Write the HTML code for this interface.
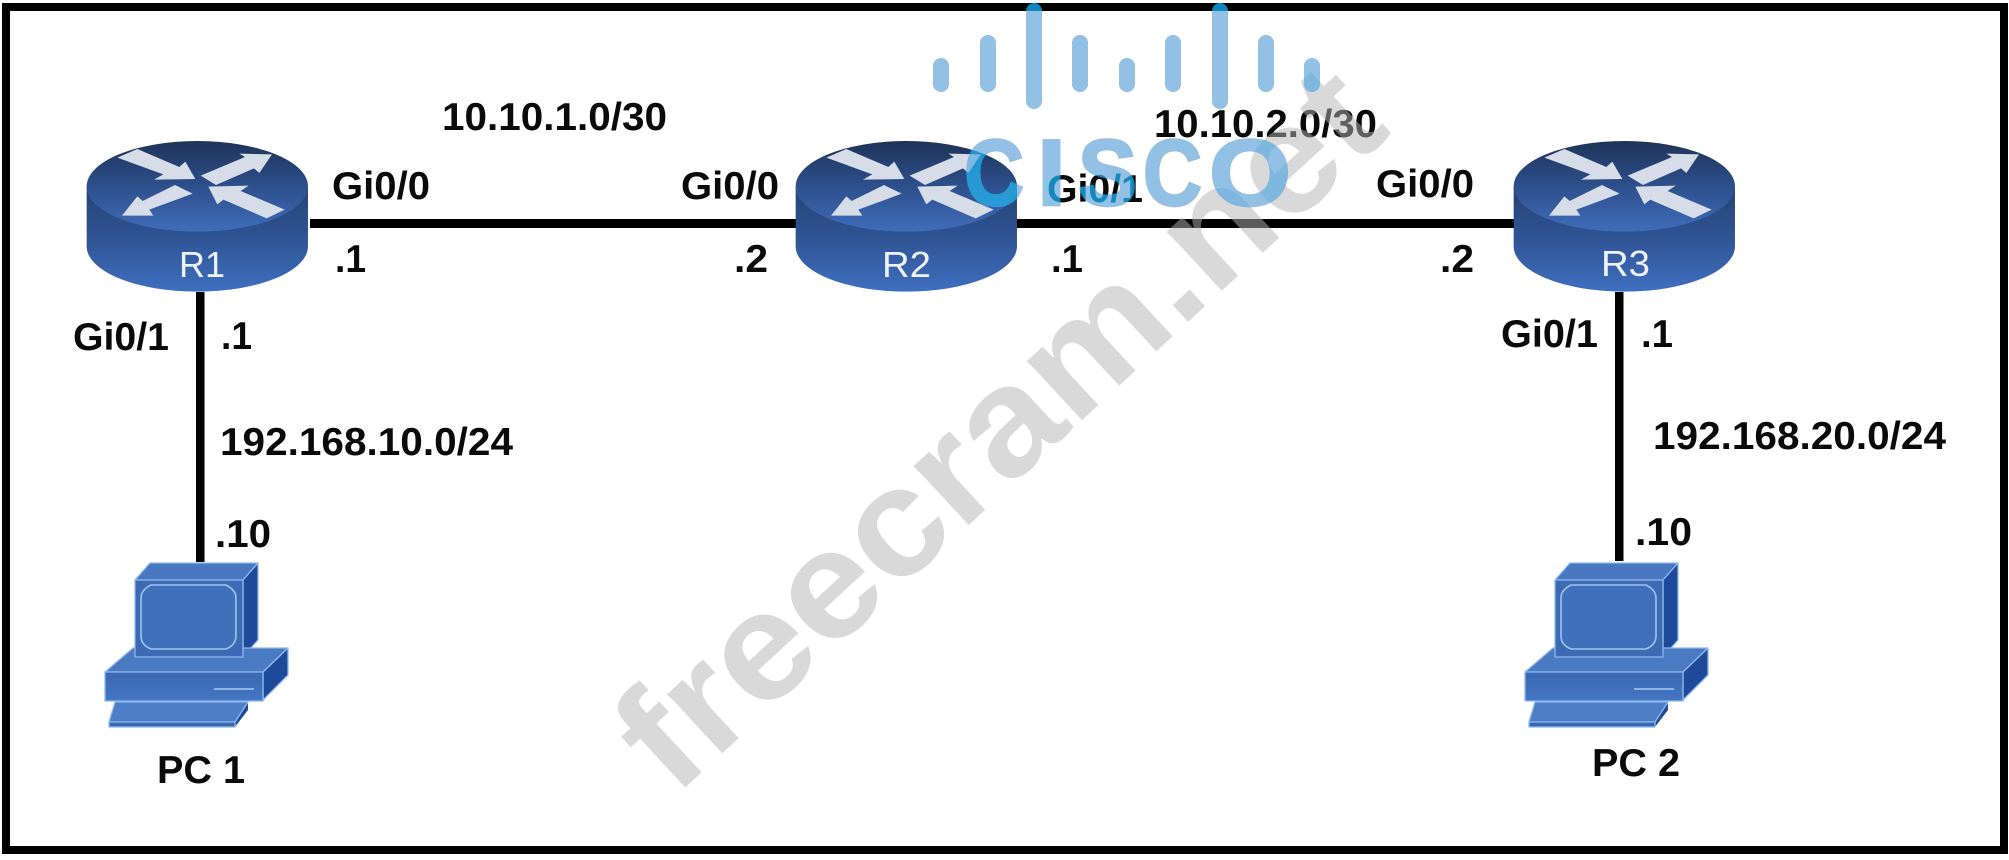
<!DOCTYPE html>
<html><head><meta charset="utf-8"><title>Network topology</title>
<style>html,body{margin:0;padding:0;background:#fff}svg{display:block}
text{font-family:"Liberation Sans",Arial,sans-serif}
.b{font-weight:700;font-size:38.5px;fill:#0a0a0a}
.w{font-size:36px;fill:#eef2f9}
.wm{font-weight:700;font-size:153px;fill:rgba(180,180,180,.5)}
.lg{font-weight:700;font-size:94px;stroke-width:2.5px}
.mul{mix-blend-mode:multiply;fill:#8c7c99;stroke:none}
.mul .lg{stroke:#8c7c99}
.scr{mix-blend-mode:screen;fill:#0f86be}
.scr .lg{stroke:#0f86be}
</style></head><body>
<svg width="2009" height="860" viewBox="0 0 2009 860" xmlns="http://www.w3.org/2000/svg">
<defs>
<linearGradient id="t" gradientUnits="userSpaceOnUse" x1="0" y1="18" x2="0" y2="290"><stop offset="0" stop-color="#1e3358"/><stop offset=".5" stop-color="#2d4f8c"/><stop offset="1" stop-color="#3f6dba"/></linearGradient>
<linearGradient id="s" gradientUnits="userSpaceOnUse" x1="0" y1="180" x2="0" y2="470"><stop offset="0" stop-color="#274578"/><stop offset=".45" stop-color="#2f5494"/><stop offset="1" stop-color="#3f6fc0"/></linearGradient>
<linearGradient id="pf" x1="0" y1="0" x2="0" y2="1"><stop offset="0" stop-color="#3a68b2"/><stop offset="1" stop-color="#4576c2"/></linearGradient>
<g id="router">
<path d="M20,154 L20,334 A332,136 0 0 0 684,334 L684,154 Z" fill="url(#s)"/>
<ellipse cx="352" cy="154" rx="332" ry="136" fill="url(#t)"/>
<g fill="#d6dde9">
<polygon points="172,42 298,96 316,80 346,132 222,134 250,118 112,68"/>
<polygon points="362,122 495,66 478,56 576,58 538,114 522,100 408,150"/>
<polygon points="285,150 338,176 208,224 220,242 126,242 172,184 188,198"/>
<polygon points="385,155 506,152 482,168 614,224 560,250 430,194 412,208"/>
</g>
</g>
<g id="pc" stroke="#8db9ee" stroke-width="1.3" stroke-linejoin="round">
<polygon points="135,580 150,563 258,563 243,580" fill="#4a78c0"/>
<polygon points="243,580 258,563 258,640 243,657" fill="#1f4a9a"/>
<polygon points="105,672 133,648 288,648 263,672" fill="#4a7ac2"/>
<polygon points="263,672 288,648 288,675 263,700" fill="#1f4a9a"/>
<rect x="135" y="580" width="108" height="77" fill="#3d6ab2"/>
<path d="M151,585 H226 Q236,590 236,598 V636 Q236,645 226,649 H151 Q141,645 141,636 V598 Q141,590 151,585 Z" fill="#4070ba" stroke="#9cc4f0" stroke-width="1.6"/>
<rect x="105" y="672" width="158" height="29" fill="url(#pf)"/>
<line x1="214" y1="689" x2="254" y2="689" stroke="#a9cbf2" stroke-width="1.5"/>
<polygon points="248,702 248,710 235,727 235,722" fill="#1f4a9a" stroke="none"/>
<polygon points="115,702 248,702 235,722 109,722" fill="#4e7ec6"/>
<rect x="109" y="722" width="126" height="5" fill="#3566b0"/>
</g>
</defs>
<rect width="2009" height="860" fill="#fff"/>
<rect x="6" y="7" width="1998" height="843" fill="none" stroke="#000" stroke-width="8"/>
<rect x="310" y="219" width="490" height="9" fill="#000"/>
<rect x="1012" y="219" width="505" height="9" fill="#000"/>
<rect x="196" y="292" width="8.5" height="270" fill="#000"/>
<rect x="1615" y="292" width="8.5" height="269" fill="#000"/>
<use href="#router" transform="translate(80,135) scale(.3333)"/>
<use href="#router" transform="translate(789,135) scale(.3333)"/>
<use href="#router" transform="translate(1507,135) scale(.3333)"/>
<use href="#pc"/>
<use href="#pc" transform="translate(1420,0)"/>
<text class="w" x="179" y="277" textLength="46" lengthAdjust="spacingAndGlyphs">R1</text>
<text class="w" x="882" y="277" textLength="49" lengthAdjust="spacingAndGlyphs">R2</text>
<text class="w" x="1601" y="276" textLength="49" lengthAdjust="spacingAndGlyphs">R3</text>
<text class="b" x="442" y="130" textLength="225" lengthAdjust="spacingAndGlyphs">10.10.1.0/30</text>
<text class="b" x="332" y="199" textLength="98" lengthAdjust="spacingAndGlyphs">Gi0/0</text>
<text class="b" x="335" y="272" textLength="31" lengthAdjust="spacingAndGlyphs">.1</text>
<text class="b" x="73" y="350" textLength="96" lengthAdjust="spacingAndGlyphs">Gi0/1</text>
<text class="b" x="221" y="349" textLength="31" lengthAdjust="spacingAndGlyphs">.1</text>
<text class="b" x="220" y="455" textLength="293" lengthAdjust="spacingAndGlyphs">192.168.10.0/24</text>
<text class="b" x="215" y="547" textLength="56" lengthAdjust="spacingAndGlyphs">.10</text>
<text class="b" x="157" y="783" textLength="88" lengthAdjust="spacingAndGlyphs">PC 1</text>
<text class="b" x="681" y="199" textLength="98" lengthAdjust="spacingAndGlyphs">Gi0/0</text>
<text class="b" x="734" y="272" textLength="34" lengthAdjust="spacingAndGlyphs">.2</text>
<text class="b" x="1051" y="272" textLength="32" lengthAdjust="spacingAndGlyphs">.1</text>
<text class="b" x="1047" y="202" textLength="96" lengthAdjust="spacingAndGlyphs">Gi0/1</text>
<text class="b" x="1154" y="137" textLength="223" lengthAdjust="spacingAndGlyphs">10.10.2.0/30</text>
<text class="b" x="1376" y="197" textLength="98" lengthAdjust="spacingAndGlyphs">Gi0/0</text>
<text class="b" x="1440" y="272" textLength="34" lengthAdjust="spacingAndGlyphs">.2</text>
<text class="b" x="1501" y="347" textLength="97" lengthAdjust="spacingAndGlyphs">Gi0/1</text>
<text class="b" x="1641" y="347" textLength="32" lengthAdjust="spacingAndGlyphs">.1</text>
<text class="b" x="1653" y="449" textLength="293" lengthAdjust="spacingAndGlyphs">192.168.20.0/24</text>
<text class="b" x="1635" y="545" textLength="57" lengthAdjust="spacingAndGlyphs">.10</text>
<text class="b" x="1592" y="776" textLength="88" lengthAdjust="spacingAndGlyphs">PC 2</text>
<text class="wm" transform="translate(674,798) rotate(-42.8)" textLength="980" lengthAdjust="spacingAndGlyphs">freecram.net</text>
<g class="mul">
<rect x="933" y="58" width="16" height="34" rx="8"/><rect x="980" y="35" width="16" height="57" rx="8"/><rect x="1026" y="3" width="16" height="106" rx="8"/><rect x="1072" y="35" width="16" height="57" rx="8"/><rect x="1119" y="58" width="16" height="34" rx="8"/><rect x="1165" y="35" width="16" height="57" rx="8"/><rect x="1212" y="3" width="16" height="106" rx="8"/><rect x="1258" y="35" width="16" height="57" rx="8"/><rect x="1304" y="58" width="16" height="34" rx="8"/>
<g class="lg"><text x="964" y="205" textLength="60" lengthAdjust="spacingAndGlyphs">C</text><text x="1037" y="205" textLength="29" lengthAdjust="spacingAndGlyphs">I</text><text x="1078" y="205" textLength="59" lengthAdjust="spacingAndGlyphs">S</text><text x="1143" y="205" textLength="59" lengthAdjust="spacingAndGlyphs">C</text><text x="1209" y="205" textLength="82" lengthAdjust="spacingAndGlyphs">O</text></g>
</g>
<g class="scr">
<rect x="933" y="58" width="16" height="34" rx="8"/><rect x="980" y="35" width="16" height="57" rx="8"/><rect x="1026" y="3" width="16" height="106" rx="8"/><rect x="1072" y="35" width="16" height="57" rx="8"/><rect x="1119" y="58" width="16" height="34" rx="8"/><rect x="1165" y="35" width="16" height="57" rx="8"/><rect x="1212" y="3" width="16" height="106" rx="8"/><rect x="1258" y="35" width="16" height="57" rx="8"/><rect x="1304" y="58" width="16" height="34" rx="8"/>
<g class="lg"><text x="964" y="205" textLength="60" lengthAdjust="spacingAndGlyphs">C</text><text x="1037" y="205" textLength="29" lengthAdjust="spacingAndGlyphs">I</text><text x="1078" y="205" textLength="59" lengthAdjust="spacingAndGlyphs">S</text><text x="1143" y="205" textLength="59" lengthAdjust="spacingAndGlyphs">C</text><text x="1209" y="205" textLength="82" lengthAdjust="spacingAndGlyphs">O</text></g>
</g>
</svg>
</body></html>
